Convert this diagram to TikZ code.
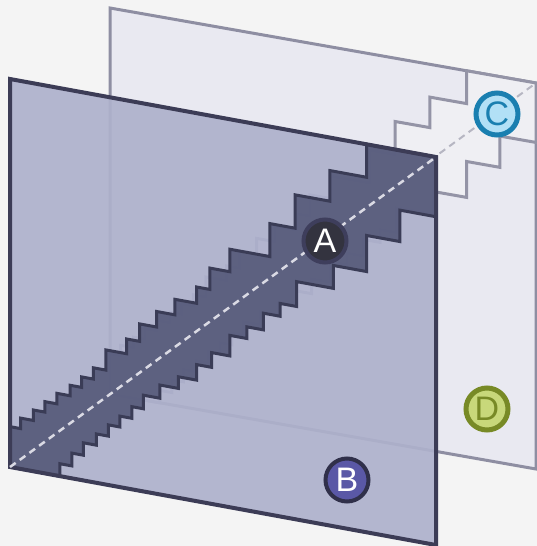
\documentclass[tikz,border=0pt]{standalone}
\usepackage{fontspec}
\setmainfont{Liberation Sans}
\definecolor{bgcol}{HTML}{F4F4F4}
\definecolor{backfill}{HTML}{E9E9F1}
\definecolor{backline}{HTML}{8E8EA2}
\definecolor{backband}{HTML}{EFEFF3}
\definecolor{backbandline}{HTML}{9494A6}
\definecolor{frontfill}{HTML}{AEB1CC}
\definecolor{frontline}{HTML}{3C3C56}
\definecolor{bandfill}{HTML}{575B7B}
\definecolor{bandline}{HTML}{3A3C56}
\definecolor{dashfront}{HTML}{DADAE4}
\definecolor{dashback}{HTML}{B6B6C2}
\definecolor{afill}{HTML}{33333F}
\definecolor{aline}{HTML}{3E3E5C}
\definecolor{bfill}{HTML}{5A58A6}
\definecolor{bline}{HTML}{30304A}
\definecolor{cfill}{HTML}{B2E0F6}
\definecolor{cline}{HTML}{1A7FB0}
\definecolor{dfill}{HTML}{C8D87A}
\definecolor{dline}{HTML}{788A26}
\newcommand{\bandoutline}{(0,0) -- (0,0.104)
 -- (0.025,0.104) -- (0.025,0.131) -- (0.055,0.131) -- (0.055,0.158)
 -- (0.082,0.158) -- (0.082,0.185) -- (0.110,0.185) -- (0.110,0.212)
 -- (0.141,0.212) -- (0.141,0.239) -- (0.168,0.239) -- (0.168,0.266)
 -- (0.196,0.266) -- (0.196,0.295) -- (0.225,0.295) -- (0.225,0.347)
 -- (0.274,0.347) -- (0.274,0.385) -- (0.304,0.385) -- (0.304,0.430)
 -- (0.344,0.430) -- (0.344,0.470) -- (0.387,0.470) -- (0.387,0.510)
 -- (0.438,0.510) -- (0.438,0.552) -- (0.469,0.552) -- (0.469,0.607)
 -- (0.516,0.607) -- (0.516,0.665) -- (0.610,0.665) -- (0.610,0.750)
 -- (0.669,0.750) -- (0.669,0.836) -- (0.751,0.836) -- (0.751,0.915)
 -- (0.837,0.915) -- (0.837,1) -- (1,1) -- (1,0.846)
 -- (0.915,0.846) -- (0.915,0.765) -- (0.837,0.765) -- (0.837,0.672)
 -- (0.759,0.672) -- (0.759,0.613) -- (0.673,0.613) -- (0.673,0.549)
 -- (0.634,0.549) -- (0.634,0.516) -- (0.595,0.516) -- (0.595,0.473)
 -- (0.556,0.473) -- (0.556,0.443) -- (0.516,0.443) -- (0.516,0.390)
 -- (0.473,0.390) -- (0.473,0.352) -- (0.438,0.352) -- (0.438,0.312)
 -- (0.395,0.312) -- (0.395,0.282) -- (0.352,0.282) -- (0.352,0.248)
 -- (0.313,0.248) -- (0.313,0.213) -- (0.286,0.213) -- (0.286,0.183)
 -- (0.258,0.183) -- (0.258,0.155) -- (0.231,0.155) -- (0.231,0.126)
 -- (0.203,0.126) -- (0.203,0.097) -- (0.172,0.097) -- (0.172,0.065)
 -- (0.145,0.065) -- (0.145,0.032) -- (0.117,0.032) -- (0.117,0) -- cycle}
\tikzset{
  planeaxes/.style={x={(426pt,-78pt)}, y={(0pt,388pt)}},
  backaxes/.style={x={(426pt,-75pt)}, y={(0pt,386pt)}},
  lab/.style={circle, minimum size=43pt, inner sep=0pt, line width=4pt,
    font=\fontsize{34}{34}\selectfont},
  diagdash/.style={dash pattern=on 7pt off 5pt, line width=2.5pt}
}
\begin{document}
\begin{tikzpicture}[x=1pt,y=-1pt, line join=miter]
\fill[bgcol] (0,0) rectangle (537,546);
\useasboundingbox (0,0) rectangle (537,546);
% back plane
\begin{scope}[shift={(110,394)}, backaxes]
  \coordinate (bk00) at (0,0);
  \coordinate (bk11) at (1,1);
  \filldraw[fill=backfill, draw=backline, line width=3pt] (0,0) -- (1,0) -- (1,1) -- (0,1) -- cycle;
  \filldraw[fill=backband, draw=backbandline, line width=3pt] \bandoutline;
  \draw[dashback, diagdash, line width=2pt] (bk00) -- (bk11);
\end{scope}
% front plane
\begin{scope}[shift={(10,467)}, planeaxes]
  \coordinate (fr00) at (0,0);
  \coordinate (fr11) at (1,1);
  \fill[frontfill, fill opacity=0.92] (0,0) -- (1,0) -- (1,1) -- (0,1) -- cycle;
  \filldraw[fill=bandfill, fill opacity=0.93, draw=bandline, line width=3pt] \bandoutline;
  \draw[frontline, line width=4pt] (0,0) -- (1,0) -- (1,1) -- (0,1) -- cycle;
  \draw[dashfront, diagdash] (fr00) -- (fr11);
\end{scope}
% labels
\node[lab, fill=afill, draw=aline, text=white] (A) at (325,241) {A};
\node[lab, fill=bfill, draw=bline, text=white] (B) at (347,480) {B};
\node[lab, fill=cfill, draw=cline, text=cline, line width=5pt, minimum size=42pt] (C) at (497,114) {C};
\node[lab, fill=dfill, draw=dline, text=dline, line width=5pt, minimum size=42pt] (D) at (487,409) {D};
\end{tikzpicture}
\end{document}
